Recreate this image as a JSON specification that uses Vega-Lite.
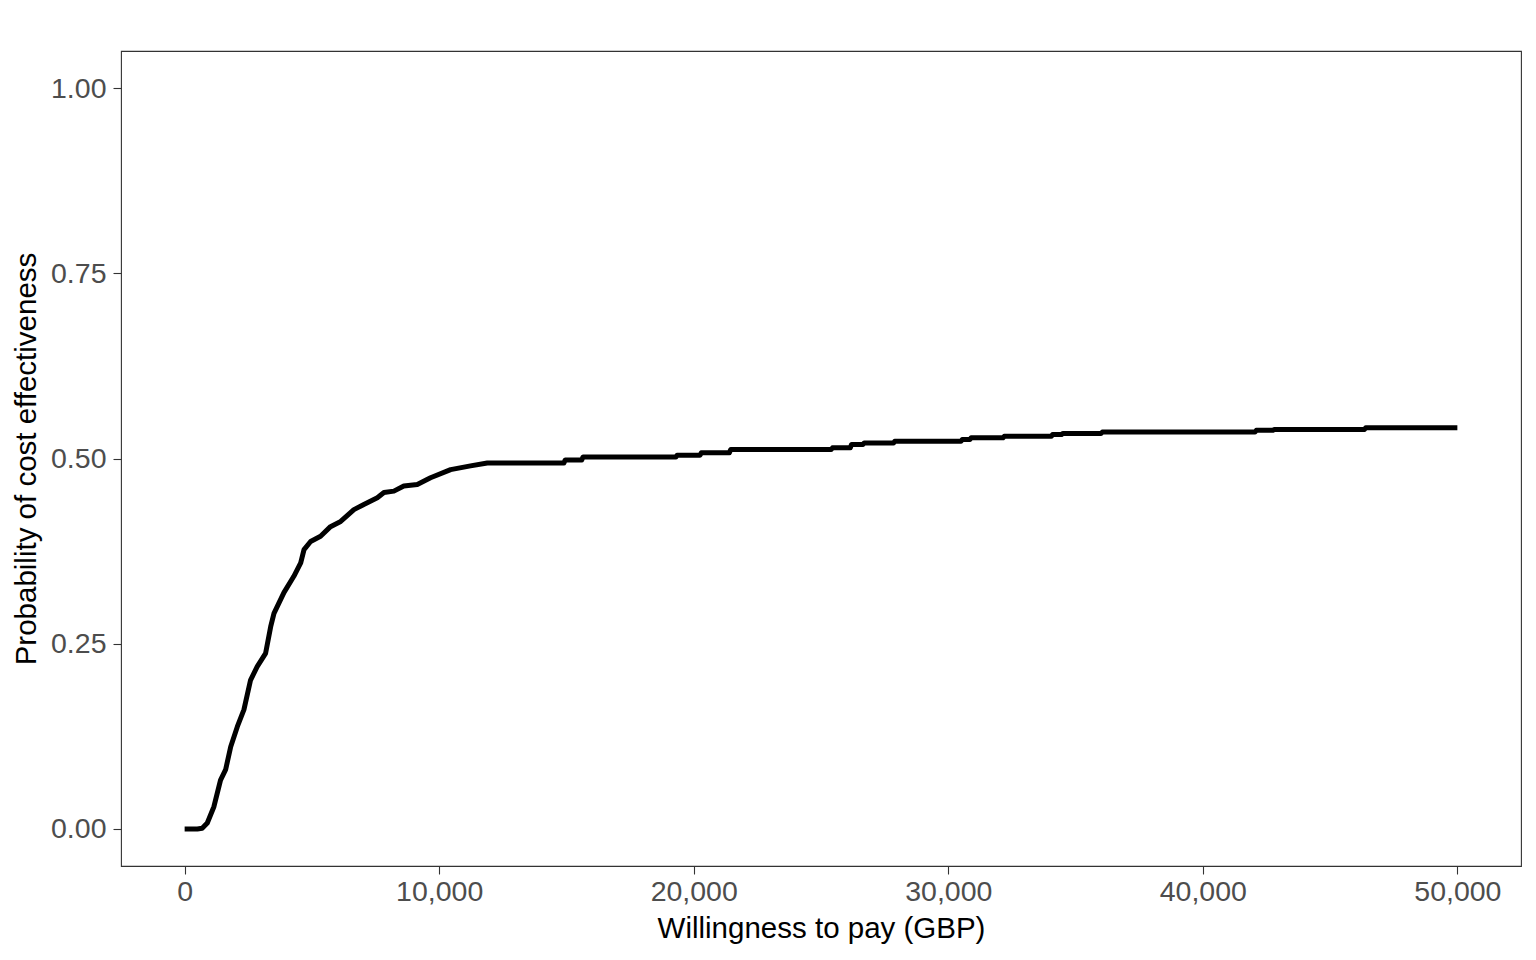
{
  "$schema": "https://vega.github.io/schema/vega-lite/v6.json",
  "width": 1400,
  "height": 815,
  "autosize": "none",
  "padding": {"left": 121, "top": 51, "right": 15, "bottom": 94},
  "background": "white",
  "config": {
    "font": "Liberation Sans",
    "view": {"stroke": "#333333", "strokeWidth": 1.1},
    "axis": {
      "grid": false,
      "domain": false,
      "tickColor": "#333333",
      "tickSize": 8,
      "tickWidth": 1.1,
      "labelColor": "#4d4d4d",
      "labelFont": "Liberation Sans",
      "labelFontSize": 28.5,
      "titleFont": "Liberation Sans",
      "titleFontSize": 29.5,
      "titleFontWeight": "normal",
      "titleColor": "black"
    }
  },
  "data": {
    "values": [
      {"wtp": 0, "prob": 0},
      {"wtp": 500, "prob": 0},
      {"wtp": 690, "prob": 0.001},
      {"wtp": 890, "prob": 0.008},
      {"wtp": 1150, "prob": 0.030},
      {"wtp": 1410, "prob": 0.066},
      {"wtp": 1610, "prob": 0.080},
      {"wtp": 1810, "prob": 0.111},
      {"wtp": 2070, "prob": 0.138},
      {"wtp": 2330, "prob": 0.161},
      {"wtp": 2590, "prob": 0.201},
      {"wtp": 2850, "prob": 0.219},
      {"wtp": 3180, "prob": 0.237},
      {"wtp": 3380, "prob": 0.273},
      {"wtp": 3510, "prob": 0.291},
      {"wtp": 3900, "prob": 0.319},
      {"wtp": 4290, "prob": 0.341},
      {"wtp": 4560, "prob": 0.359},
      {"wtp": 4690, "prob": 0.377},
      {"wtp": 4950, "prob": 0.388},
      {"wtp": 5340, "prob": 0.395},
      {"wtp": 5730, "prob": 0.408},
      {"wtp": 6130, "prob": 0.415},
      {"wtp": 6650, "prob": 0.431},
      {"wtp": 7040, "prob": 0.438},
      {"wtp": 7570, "prob": 0.447},
      {"wtp": 7830, "prob": 0.454},
      {"wtp": 8220, "prob": 0.456},
      {"wtp": 8610, "prob": 0.463},
      {"wtp": 9140, "prob": 0.465},
      {"wtp": 9660, "prob": 0.474},
      {"wtp": 10450, "prob": 0.485},
      {"wtp": 11230, "prob": 0.490},
      {"wtp": 11890, "prob": 0.494},
      {"wtp": 14900, "prob": 0.494},
      {"wtp": 14950, "prob": 0.498},
      {"wtp": 15600, "prob": 0.498},
      {"wtp": 15650, "prob": 0.502},
      {"wtp": 19300, "prob": 0.502},
      {"wtp": 19350, "prob": 0.5045},
      {"wtp": 20250, "prob": 0.5045},
      {"wtp": 20300, "prob": 0.5077},
      {"wtp": 21400, "prob": 0.5077},
      {"wtp": 21450, "prob": 0.512},
      {"wtp": 25400, "prob": 0.512},
      {"wtp": 25450, "prob": 0.5144},
      {"wtp": 26150, "prob": 0.5144},
      {"wtp": 26200, "prob": 0.519},
      {"wtp": 26650, "prob": 0.519},
      {"wtp": 26700, "prob": 0.521},
      {"wtp": 27850, "prob": 0.521},
      {"wtp": 27900, "prob": 0.5234},
      {"wtp": 30500, "prob": 0.5234},
      {"wtp": 30550, "prob": 0.5257},
      {"wtp": 30850, "prob": 0.5257},
      {"wtp": 30900, "prob": 0.528},
      {"wtp": 32150, "prob": 0.528},
      {"wtp": 32200, "prob": 0.530},
      {"wtp": 34050, "prob": 0.530},
      {"wtp": 34100, "prob": 0.5324},
      {"wtp": 34450, "prob": 0.5324},
      {"wtp": 34500, "prob": 0.5338},
      {"wtp": 36000, "prob": 0.5338},
      {"wtp": 36050, "prob": 0.5356},
      {"wtp": 42050, "prob": 0.5356},
      {"wtp": 42100, "prob": 0.538},
      {"wtp": 42750, "prob": 0.538},
      {"wtp": 42800, "prob": 0.5392},
      {"wtp": 46350, "prob": 0.5392},
      {"wtp": 46400, "prob": 0.5414},
      {"wtp": 50000, "prob": 0.5414}
    ]
  },
  "mark": {"type": "line", "color": "black", "strokeWidth": 5, "strokeJoin": "round"},
  "encoding": {
    "x": {
      "field": "wtp",
      "type": "quantitative",
      "scale": {"domain": [-2500, 52500], "nice": false, "zero": false},
      "axis": {
        "values": [0, 10000, 20000, 30000, 40000, 50000],
        "format": ",.0f",
        "title": "Willingness to pay (GBP)",
        "labelPadding": 3,
        "titlePadding": 9
      }
    },
    "y": {
      "field": "prob",
      "type": "quantitative",
      "scale": {"domain": [-0.05, 1.05], "nice": false, "zero": false},
      "axis": {
        "values": [0, 0.25, 0.5, 0.75, 1],
        "format": ".2f",
        "title": "Probability of cost effectiveness",
        "labelPadding": 7,
        "titlePadding": 9
      }
    }
  }
}
